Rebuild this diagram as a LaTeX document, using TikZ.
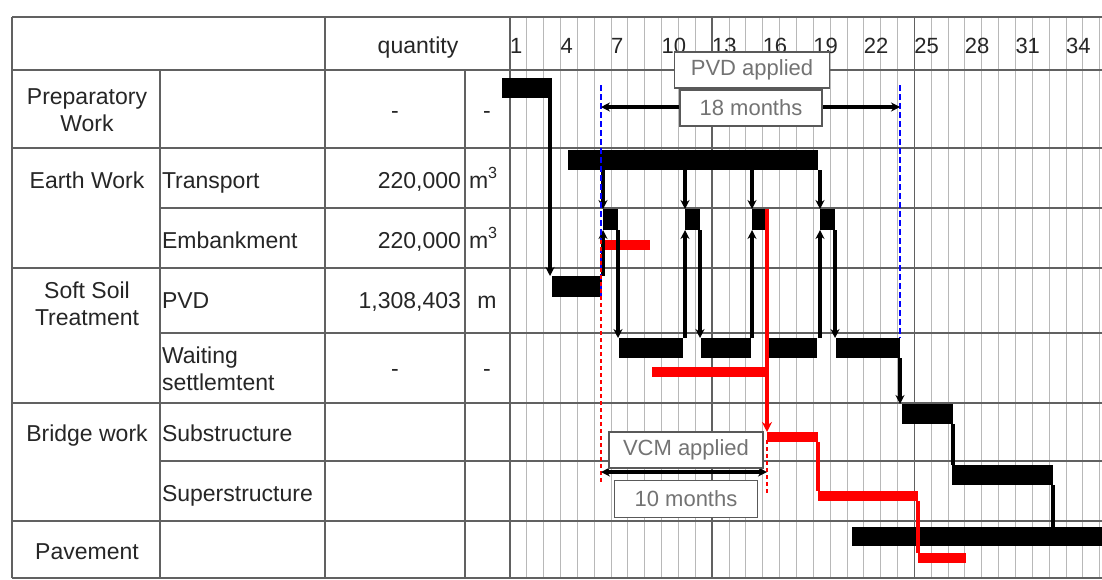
\documentclass[tikz,border=0pt]{standalone}
\usepackage{fontspec}
\setmainfont{Liberation Sans}
\usetikzlibrary{arrows.meta,calc}
\begin{document}
\begin{tikzpicture}[x=1pt,y=-1pt,
  every node/.style={font=\fontsize{23}{27}\selectfont, text=black!85, inner sep=0pt, outer sep=0pt},
  smalltext/.style={font=\fontsize{22}{26}\selectfont},
  tblline/.style={draw=black!62, line width=1.5pt},
  gridline/.style={draw=black!28, line width=1pt},
  majorline/.style={draw=black!62, line width=1.5pt},
  ganttbar/.style={fill=black, draw=none, anchor=north west, minimum height=20pt},
  redbar/.style={fill=red, draw=none, anchor=north west, minimum height=10pt},
  conn/.style={draw=black, line width=3.2pt, -{Stealth[length=9pt,width=9pt]}},
  plainline/.style={draw=black, line width=3.2pt},
  rconn/.style={draw=red, line width=3.2pt, -{Stealth[length=10pt,width=10pt]}},
  rplain/.style={draw=red, line width=3.2pt},
  bdash/.style={draw=blue, line width=2.8pt, dash pattern=on 6pt off 3pt},
  rdash/.style={draw=red, line width=2.2pt, dash pattern=on 4pt off 3pt},
  dimarrow/.style={draw=black, line width=3.2pt, {Stealth[length=9pt,width=9pt]}-{Stealth[length=9pt,width=9pt]}},
  lblbox/.style={draw=black!65, line width=1.4pt, fill=white, text=black!55, minimum height=36pt, smalltext},
]
\useasboundingbox (0,0) rectangle (1102,579);
\clip (0,0) rectangle (1102,579);
\fill[white] (0,0) rectangle (1102,579);

% month grid
\foreach \k in {0,...,35} {
  \draw[gridline] ({510+\k*16.85},17) -- ({510+\k*16.85},579);
}
\foreach \k in {0,12,24} {
  \draw[majorline] ({510+\k*16.85},17) -- ({510+\k*16.85},579);
}

% table lines
\draw[tblline] (12,17) -- (1102,17);
\draw[tblline] (12,70) -- (1102,70);
\draw[tblline] (12,148) -- (1102,148);
\draw[tblline] (160,208) -- (1102,208);
\draw[tblline] (12,268) -- (1102,268);
\draw[tblline] (160,333) -- (1102,333);
\draw[tblline] (12,403) -- (1102,403);
\draw[tblline] (160,461) -- (1102,461);
\draw[tblline] (12,521) -- (1102,521);
\draw[tblline] (12,578) -- (1102,578);
\draw[tblline] (12,17) -- (12,578);
\draw[tblline] (160,70) -- (160,578);
\draw[tblline] (325,17) -- (325,578);
\draw[tblline] (465,70) -- (465,578);

% header
\node[anchor=base] (hq) at (418,53) {quantity};
\foreach \m in {1,4,...,34} {
  \node[anchor=base west, smalltext] (mon\m) at ({510+(\m-1)*16.85},53) {\m};
}

% table texts
\node[align=center] (cprep) at (87,110.5) {Preparatory\\Work};
\node[anchor=base] (qprep) at (395,118) {-};
\node[anchor=base] (uprep) at (487,118) {-};

\node[anchor=base] (cearth) at (87,188) {Earth Work};
\node[anchor=base west] (strans) at (162,188) {Transport};
\node[anchor=base east] (qtrans) at (461,188) {220,000};
\node[anchor=base west] (utrans) at (469,188) {m\textsuperscript{3}};
\node[anchor=base west] (semb) at (162,248) {Embankment};
\node[anchor=base east] (qemb) at (461,248) {220,000};
\node[anchor=base west] (uemb) at (469,248) {m\textsuperscript{3}};

\node[align=center] (csoft) at (87,303.5) {Soft Soil\\Treatment};
\node[anchor=base west] (spvd) at (162,308) {PVD};
\node[anchor=base east] (qpvd) at (461,308) {1,308,403};
\node[anchor=base] (upvd) at (487,308) {m};
\node[align=left, anchor=west] (swait) at (162,368.5) {Waiting\\settlemtent};
\node[anchor=base] (qwait) at (395,376) {-};
\node[anchor=base] (uwait) at (487,376) {-};

\node[anchor=base] (cbridge) at (87,441) {Bridge work};
\node[anchor=base west] (ssub) at (162,441) {Substructure};
\node[anchor=base west] (ssup) at (162,501) {Superstructure};
\node[anchor=base] (cpave) at (87,559) {Pavement};

% black bars
\node[ganttbar, minimum width=50pt] (prep) at (502,78) {};
\node[ganttbar, minimum width=250pt] (trans) at (568,150) {};
\node[ganttbar, minimum width=15pt, minimum height=21pt] (emb1) at (603,209) {};
\node[ganttbar, minimum width=15pt, minimum height=21pt] (emb2) at (685,209) {};
\node[ganttbar, minimum width=15pt, minimum height=21pt] (emb3) at (752,209) {};
\node[ganttbar, minimum width=15pt, minimum height=21pt] (emb4) at (820,209) {};
\node[ganttbar, minimum width=50pt, minimum height=21pt] (pvd) at (552,276) {};
\node[ganttbar, minimum width=64pt] (wait1) at (619,338) {};
\node[ganttbar, minimum width=50pt] (wait2) at (701,338) {};
\node[ganttbar, minimum width=48pt] (wait3) at (769,338) {};
\node[ganttbar, minimum width=64pt] (wait4) at (836,338) {};
\node[ganttbar, minimum width=51pt] (sub) at (902,404) {};
\node[ganttbar, minimum width=101pt] (sup) at (952,465) {};
\node[ganttbar, minimum width=250pt, minimum height=19pt] (pave) at (852,527) {};

% red bars
\node[redbar, minimum width=47pt] (remb) at (603,240) {};
\node[redbar, minimum width=115pt] (rwait) at (652,367) {};
\node[redbar, minimum width=51pt] (rsub) at (767,432) {};
\node[redbar, minimum width=100pt] (rsup) at (818,491) {};
\node[redbar, minimum width=48pt] (rpave) at (918,553) {};

% black connectors
\draw[conn] ([xshift=-2pt]prep.south east) -- ([xshift=-2pt]prep.south east |- pvd.north);
\draw[conn] (emb1.north west |- trans.south) -- (emb1.north west);
\draw[conn] (emb2.north west |- trans.south) -- (emb2.north west);
\draw[conn] (emb3.north west |- trans.south) -- (emb3.north west);
\draw[conn] (emb4.north west |- trans.south) -- (emb4.north west);
\draw[conn] (emb1.south west |- pvd.north) -- (emb1.south west);
\draw[conn] (emb2.south west |- wait1.north) -- (emb2.south west);
\draw[conn] (emb3.south west |- wait2.north) -- (emb3.south west);
\draw[conn] (emb4.south west |- wait3.north) -- (emb4.south west);
\draw[conn] (emb1.south east) -- (emb1.south east |- wait1.north);
\draw[conn] (emb2.south east) -- (emb2.south east |- wait2.north);
\draw[conn] (emb4.south east) -- (emb4.south east |- wait4.north);
\draw[conn] (wait4.south east) -- (wait4.south east |- sub.north);
\draw[plainline] (sub.south east) -- (sub.south east |- sup.north);
\draw[plainline] (sup.south east) -- (sup.south east |- pave.north);

% red connectors
\draw[rconn] (emb3.north east) -- (emb3.north east |- rsub.north);
\draw[rplain] (rsub.south east) -- (rsub.south east |- rsup.north);
\draw[rplain] (rsup.south east) -- (rsup.south east |- rpave.north);

% dashed markers
\coordinate (b1t) at (601,85);
\coordinate (b1b) at (601,300);
\coordinate (b2t) at (900,85);
\coordinate (r1t) at (601,240);
\coordinate (r1b) at (601,482);
\coordinate (r2t) at (767,440);
\coordinate (r2b) at (767,493);
\draw[bdash] (b1t) -- (b1b);
\draw[bdash] (b2t) -- (b2t |- wait4.north);
\draw[rdash] (r1t) -- (r1b);
\draw[rdash] (r2t) -- (r2b);

% PVD span
\coordinate (pvdL) at (601,107);
\coordinate (pvdR) at (900,107);
\draw[dimarrow] (pvdL) -- (pvdR);
\node[lblbox, minimum width=155pt] (pvdlbl) at (752,70) {PVD applied};
\node[lblbox, minimum width=142pt] (m18) at (751,108) {18 months};

% VCM span
\coordinate (vcmL) at (601,472);
\coordinate (vcmR) at (767,472);
\draw[dimarrow] (vcmL) -- (vcmR);
\node[lblbox, minimum width=154pt] (vcmlbl) at (686,450) {VCM applied};
\node[lblbox, minimum width=143pt, minimum height=37pt] (m10) at (686,499) {10 months};
\end{tikzpicture}
\end{document}
